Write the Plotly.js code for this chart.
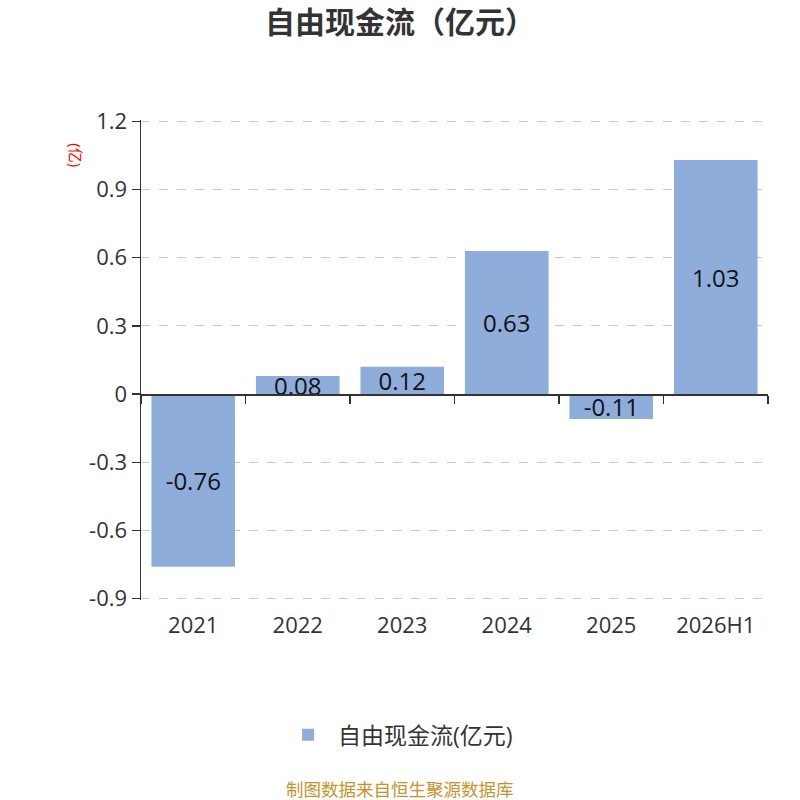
<!DOCTYPE html>
<html>
<head>
<meta charset="utf-8">
<script src="https://cdn.plot.ly/plotly-3.0.1.min.js"></script>
<style>
  html, body { margin: 0; padding: 0; background: #fff; }
  #chart { width: 800px; height: 800px; }
</style>
</head>
<body>
<div id="chart"></div>
<script>
// data
var years = ["2021", "2022", "2023", "2024", "2025", "2026H1"];
var fcf = [-0.76, 0.08, 0.12, 0.63, -0.11, 1.03];
var yTicks = [1.2, 0.9, 0.6, 0.3, 0, -0.3, -0.6, -0.9];
var yTickText = ["1.2", "0.9", "0.6", "0.3", "0", "-0.3", "-0.6", "-0.9"];

var seriesName = "自由现金流(亿元)";
var font = '"Open Sans", "Noto Sans CJK SC", sans-serif';

var bars = {
    x: years,
    y: fcf,
    type: "bar",
    name: seriesName,
    width: 0.8,
    marker: { color: "#8eaddb" },
    text: fcf.map(function (v) { return v.toFixed(2); }),
    textposition: "inside",
    insidetextanchor: "middle",
    constraintext: "none",
    textfont: { color: "#111", size: 24, family: font },
    hoverinfo: "x+y"
};

// invisible trace so the zero-line axis gets drawn
var zeroAxis = {
    x: years,
    y: fcf,
    xaxis: "x2",
    type: "scatter",
    mode: "none",
    showlegend: false,
    hoverinfo: "skip"
};

var layout = {
    width: 800,
    height: 800,
    margin: { l: 141, r: 32, t: 120, b: 200 },
    paper_bgcolor: "#fff",
    plot_bgcolor: "#fff",
    font: { family: font, color: "#333" },
    title: {
        text: "<b>自由现金流（亿元）</b>",
        x: 0.5, xanchor: "center",
        y: 0.972, yanchor: "middle",
        font: { size: 30, color: "#333", family: font }
    },
    xaxis: {
        type: "category",
        showline: false,
        showgrid: false,
        zeroline: false,
        ticks: "",
        ticklabelstandoff: 10,
        tickfont: { size: 22, color: "#333" },
        fixedrange: true
    },
    xaxis2: {
        type: "category",
        overlaying: "x",
        matches: "x",
        anchor: "free",
        position: 0.906 / 2.112,
        showline: true,
        linecolor: "#333",
        linewidth: 1.5,
        ticks: "outside",
        tickson: "boundaries",
        ticklen: 8,
        tickcolor: "#333",
        tickwidth: 1.5,
        showticklabels: false,
        showgrid: false,
        zeroline: false
    },
    yaxis: {
        // padded a hair so the end gridlines are kept
        range: [-0.906, 1.206],
        tickvals: yTicks,
        ticktext: yTickText,
        showline: true,
        linecolor: "#333",
        linewidth: 1.5,
        ticks: "outside",
        ticklen: 8,
        tickcolor: "#333",
        tickwidth: 1.5,
        showgrid: true,
        gridcolor: "#c8c8c8",
        griddash: "dash",
        gridwidth: 1,
        zeroline: false,
        tickfont: { size: 22, color: "#333" },
        fixedrange: true
    },
    bargap: 0.2,
    showlegend: true,
    legend: {
        orientation: "h",
        x: 0.41, xanchor: "center",
        y: -0.281, yanchor: "middle",
        font: { size: 23, color: "#333" },
        itemwidth: 50
    },
    annotations: [
        {
            text: "(亿)",
            xref: "paper", yref: "paper",
            x: -0.104, y: 0.927,
            xanchor: "center", yanchor: "middle",
            textangle: 90,
            showarrow: false,
            font: { size: 15, color: "#ff0000" }
        },
        {
            text: "制图数据来自恒生聚源数据库",
            xref: "paper", yref: "paper",
            x: 0.413, y: -0.394,
            xanchor: "center", yanchor: "middle",
            showarrow: false,
            font: { size: 17.5, color: "#c8922a" }
        }
    ]
};

Plotly.newPlot("chart", [bars, zeroAxis], layout, { displayModeBar: false, staticPlot: true });
</script>
</body>
</html>
